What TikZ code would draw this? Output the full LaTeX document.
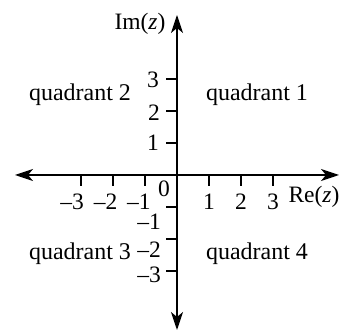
\documentclass[tikz,border=0pt]{standalone}
\usepackage{fontspec}
\setmainfont{Liberation Serif}
\usetikzlibrary{arrows.meta,calc}
\begin{document}
\begin{tikzpicture}[x=1pt,y=-1pt,
  axis/.style={line width=1.2pt,{Stealth[length=18pt,width=12pt,inset=5pt]}-{Stealth[length=18pt,width=12pt,inset=5pt]}},
  tickline/.style={line width=1.1pt},
  lbl/.style={font=\fontsize{23.5}{26}\selectfont,inner sep=0pt},
  qlbl/.style={font=\fontsize{24}{28}\selectfont,inner sep=0pt,anchor=base}]
\useasboundingbox (0,0) rectangle (341,331);
\coordinate (O) at (177,175);
\coordinate (L) at (15,175);
\coordinate (R) at (339,175);
\coordinate (T) at (177,15);
\coordinate (B) at (177,330);
\draw[axis] (L) -- (R);
\draw[axis] (B) -- (T);
% x ticks
\foreach \k/\n in {-3/xm3,-2/xm2,-1/xm1,1/xp1,2/xp2,3/xp3}{
  \coordinate (\n) at ($(O)+(32*\k,0)$);
  \coordinate (\n e) at ($(O)+(32*\k,11)$);
  \draw[tickline] (\n) -- (\n e);
}
% y ticks
\foreach \k/\n in {-3/yp3,-2/yp2,-1/yp1,1/ym1,2/ym2,3/ym3}{
  \coordinate (\n) at ($(O)+(0,32*\k)$);
  \coordinate (\n e) at ($(O)+(-11,32*\k)$);
  \draw[tickline] (\n) -- (\n e);
}
% x labels
\node[lbl] (lxm3) at (72,202) {--3};
\node[lbl] (lxm2) at (105.5,202) {--2};
\node[lbl] (lxm1) at (139,202) {--1};
\node[lbl] (lxp1) at (209,202) {1};
\node[lbl] (lxp2) at (241,202) {2};
\node[lbl] (lxp3) at (273,202) {3};
\node[lbl] (l0) at (164,189) {0};
\node[lbl] (re) at (314,197) {Re(\textit{z})};
% y labels
\node[lbl] (lyp3) at (153,80) {3};
\node[lbl] (lyp2) at (154,113) {2};
\node[lbl] (lyp1) at (153,143) {1};
\node[lbl] (lym1) at (149,222) {--1};
\node[lbl] (lym2) at (149,250) {--2};
\node[lbl] (lym3) at (149,275) {--3};
\node[lbl] (im) at (140,24) {Im(\textit{z})};
% quadrants
\node[qlbl] (q2) at (80,101) {quadrant 2};
\node[qlbl] (q1) at (257,101) {quadrant 1};
\node[qlbl] (q3) at (80,260) {quadrant 3};
\node[qlbl] (q4) at (257,260) {quadrant 4};
\end{tikzpicture}
\end{document}
